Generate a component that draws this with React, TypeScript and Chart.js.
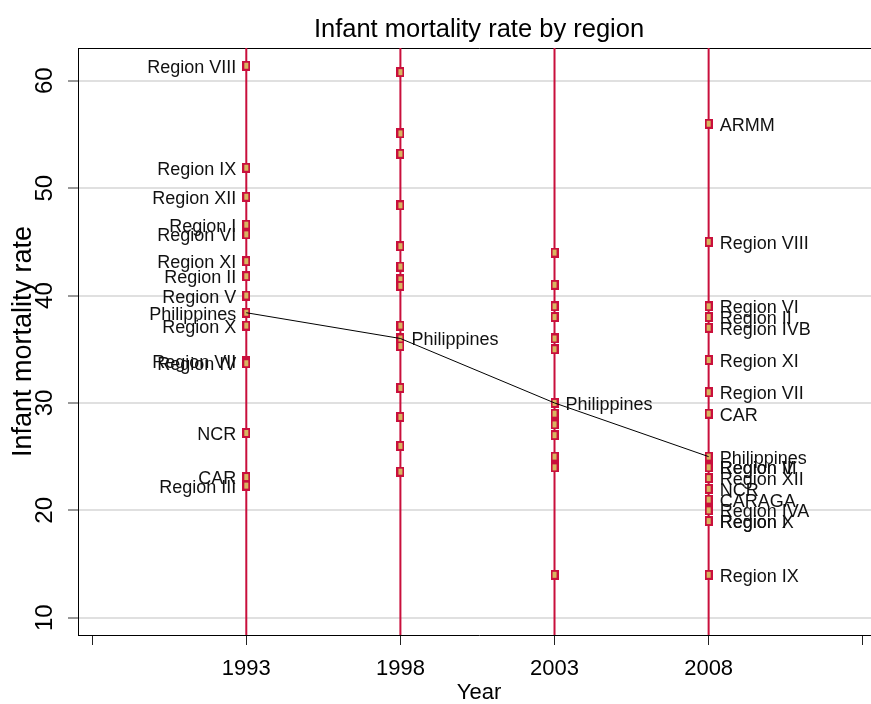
import React, { useEffect, useRef } from "react";
import { Chart, registerables } from "chart.js";

Chart.register(...registerables);

// ---------- data ----------
const TITLE = "Infant mortality rate by region";
const X_TITLE = "Year";
const Y_TITLE = "Infant mortality rate";

const SURVEY_YEARS = [1993, 1998, 2003, 2008];
const X_TICKS = [1988, 1993, 1998, 2003, 2008, 2013];
const X_TICK_LABELS = ["", "1993", "1998", "2003", "2008", ""];
const Y_TICKS = [10, 20, 30, 40, 50, 60];
const X_MIN = 1987.54;
const X_MAX = 2013.56;
const Y_MIN = 8.39;
const Y_MAX = 63.05;

const REGIONS_1993 = [
  "Region VIII", "Region IX", "Region XII", "Region I", "Region VI", "Region XI",
  "Region II", "Region V", "Region X", "Region VII", "Region IV", "NCR", "CAR", "Region III",
];
const IMR_1993 = [61.4, 51.9, 49.2, 46.6, 45.7, 43.2, 41.8, 40.0, 37.2, 33.9, 33.7, 27.2, 23.1, 22.3];

const IMR_1998 = [60.8, 55.1, 53.2, 48.4, 44.6, 42.7, 41.5, 40.9, 37.2, 35.3, 31.4, 28.7, 26.0, 23.6];

const IMR_2003 = [44, 41, 39, 38, 36, 35, 29, 28, 27, 25, 24, 14];

const REGIONS_2008 = [
  "ARMM", "Region VIII", "Region VI", "Region II", "Region IVB", "Region XI", "Region VII",
  "CAR", "Region III", "Region V", "Region XII", "NCR", "CARAGA", "Region IVA", "Region X",
  "Region I", "Region IX",
];
const IMR_2008 = [56, 45, 39, 38, 37, 34, 31, 29, 24, 24, 23, 22, 21, 20, 19, 19, 14];

const NATIONAL_LABEL = "Philippines";
const NATIONAL_IMR = [38.4, 36.0, 30.0, 25.0];

// ---------- style ----------
const FONT = "'Liberation Sans', Arial, Helvetica, sans-serif";
const CRIMSON = "#c90f3c";
const SAND = "#d8b660";
const GRID = "#e0e0e0";

function makeMarker(): HTMLCanvasElement {
  const c = document.createElement("canvas");
  c.width = 8;
  c.height = 10;
  const g = c.getContext("2d")!;
  g.fillStyle = CRIMSON;
  g.fillRect(0, 0, 8, 10);
  g.fillStyle = SAND;
  g.fillRect(2, 2, 4, 6);
  return c;
}

const labelPlugin = {
  id: "pointLabels",
  afterDatasetsDraw(chart: any) {
    const { ctx, scales } = chart;
    const xs = scales.x;
    const ys = scales.y;
    ctx.save();
    ctx.font = `18px ${FONT}`;
    ctx.fillStyle = "#111";
    ctx.textBaseline = "middle";
    const draw = (yr: number, val: number, txt: string, side: "left" | "right") => {
      const px = xs.getPixelForValue(yr);
      const py = ys.getPixelForValue(val);
      ctx.textAlign = side === "left" ? "right" : "left";
      ctx.fillText(txt, side === "left" ? px - 10 : px + 11, py + 2);
    };
    REGIONS_1993.forEach((r, i) => draw(1993, IMR_1993[i], r, "left"));
    REGIONS_2008.forEach((r, i) => draw(2008, IMR_2008[i], r, "right"));
    NATIONAL_IMR.forEach((v, i) => draw(SURVEY_YEARS[i], v, NATIONAL_LABEL, i === 0 ? "left" : "right"));
    ctx.restore();
  },
};

export default function App() {
  const ref = useRef<HTMLCanvasElement | null>(null);

  useEffect(() => {
    if (!ref.current) return;
    const marker = makeMarker();
    const regional = [IMR_1993, IMR_1998, IMR_2003, IMR_2008];
    const markerData: { x: number; y: number }[] = [];
    regional.forEach((vals, i) => vals.forEach((v) => markerData.push({ x: SURVEY_YEARS[i], y: v })));
    NATIONAL_IMR.forEach((v, i) => markerData.push({ x: SURVEY_YEARS[i], y: v }));

    const yearLines = SURVEY_YEARS.map((yr) => ({
      type: "line" as const,
      data: [
        { x: yr, y: Y_MIN },
        { x: yr, y: Y_MAX },
      ],
      borderColor: CRIMSON,
      borderWidth: 2,
      pointRadius: 0,
      order: 3,
    }));

    const chart = new Chart(ref.current, {
      type: "scatter",
      data: {
        datasets: [
          ...yearLines,
          {
            type: "scatter",
            data: markerData,
            pointStyle: marker as any,
            pointRadius: 4,
            order: 2,
          },
          {
            type: "line",
            data: NATIONAL_IMR.map((v, i) => ({ x: SURVEY_YEARS[i], y: v })),
            borderColor: "#000",
            borderWidth: 1,
            pointRadius: 0,
            order: 1,
          },
        ] as any,
      },
      options: {
        animation: false,
        responsive: false,
        devicePixelRatio: 1,
        events: [],
        layout: { padding: 0 },
        plugins: {
          legend: { display: false },
          tooltip: { enabled: false },
          title: {
            display: true,
            text: TITLE,
            color: "#000",
            font: { family: FONT, size: 25.5, weight: "normal", lineHeight: 1.2 },
            padding: { top: 15, bottom: 2.4 },
          },
        },
        scales: {
          x: {
            type: "linear",
            position: "bottom",
            min: X_MIN,
            max: X_MAX,
            afterBuildTicks: (s: any) => {
              s.ticks = X_TICKS.map((v) => ({ value: v }));
            },
            afterFit: (s: any) => {
              s.height = 69;
            },
            ticks: {
              autoSkip: false,
              maxRotation: 0,
              minRotation: 0,
              padding: 11,
              color: "#000",
              font: { family: FONT, size: 22 },
              callback: (v: any) => {
                const i = X_TICKS.indexOf(Number(v));
                return i >= 0 ? X_TICK_LABELS[i] : "";
              },
            },
            grid: {
              drawOnChartArea: false,
              drawTicks: true,
              tickLength: 10,
              tickColor: "#222",
              tickWidth: 1,
            },
            border: { display: true, color: "#000", width: 1 },
            title: {
              display: true,
              text: X_TITLE,
              color: "#000",
              font: { family: FONT, size: 22, lineHeight: 1.0 },
              padding: { top: 0, bottom: 0 },
            },
          },
          x2: {
            type: "linear",
            position: "top",
            min: X_MIN,
            max: X_MAX,
            afterFit: (s: any) => {
              s.height = 0;
            },
            ticks: { display: false },
            grid: { drawOnChartArea: false, drawTicks: false },
            border: { display: true, color: "#000", width: 1 },
          },
          y: {
            type: "linear",
            position: "left",
            min: Y_MIN,
            max: Y_MAX,
            afterBuildTicks: (s: any) => {
              s.ticks = Y_TICKS.map((v) => ({ value: v }));
            },
            afterFit: (s: any) => {
              s.width = 78;
            },
            ticks: {
              minRotation: 90,
              maxRotation: 90,
              crossAlign: "center",
              padding: 9,
              color: "#000",
              font: { family: FONT, size: 24 },
            },
            grid: {
              color: GRID,
              lineWidth: 2,
              drawTicks: true,
              tickLength: 10,
              tickColor: "#333",
              tickWidth: 1,
            },
            border: { display: true, color: "#000", width: 1 },
            title: {
              display: true,
              text: Y_TITLE,
              color: "#000",
              font: { family: FONT, size: 27 },
              padding: { top: 7, bottom: 0 },
            },
          },
          y2: {
            type: "linear",
            position: "right",
            min: Y_MIN,
            max: Y_MAX,
            afterFit: (s: any) => {
              s.width = 78;
            },
            ticks: { display: false },
            grid: { drawOnChartArea: false, drawTicks: false },
            border: { display: true, color: "#000", width: 1 },
          },
        },
      } as any,
      plugins: [labelPlugin],
    });
    return () => chart.destroy();
  }, []);

  return (
    <div
      style={{
        position: "fixed",
        left: 0,
        top: 0,
        width: 871,
        height: 704,
        overflow: "hidden",
        background: "#fff",
      }}
    >
      <canvas ref={ref} width={958} height={704} style={{ display: "block" }} />
    </div>
  );
}
